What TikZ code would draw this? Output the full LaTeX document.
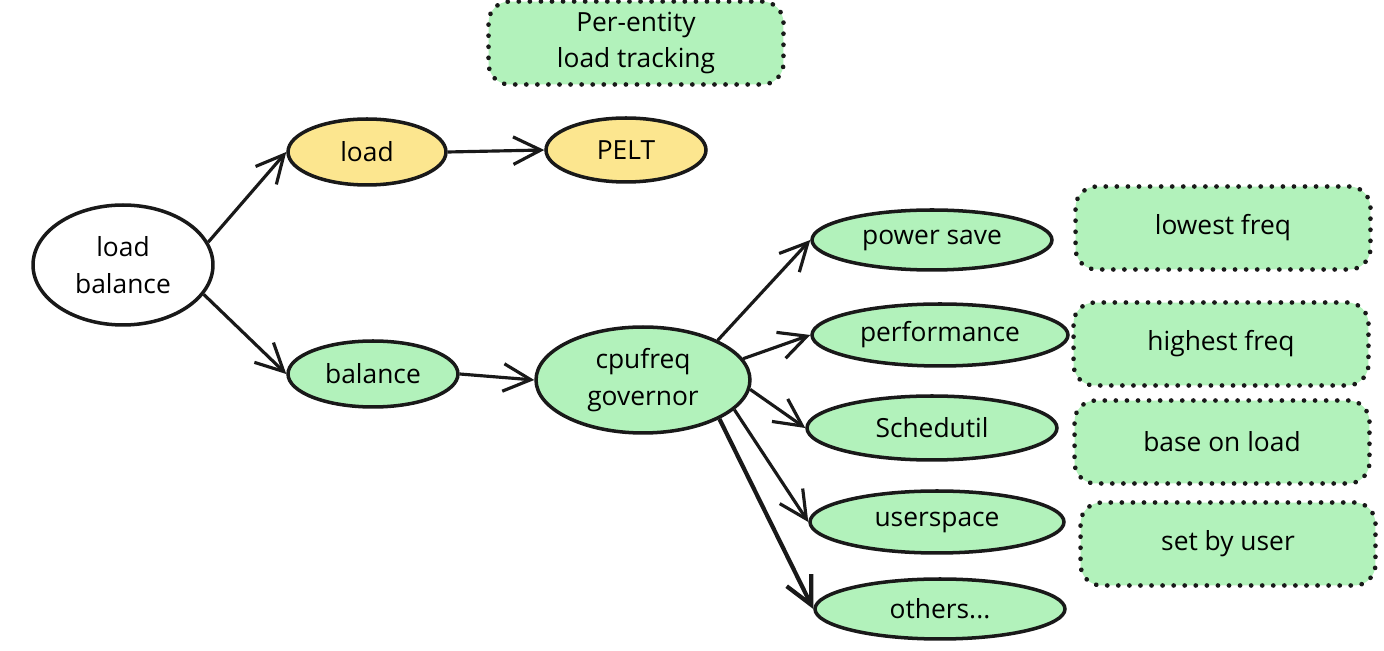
\documentclass[tikz,border=0pt]{standalone}
\usepackage{fontspec}
\setmainfont{Open Sans}
\usetikzlibrary{arrows.meta,shapes.geometric}
\definecolor{loadyellow}{HTML}{FCE68F}
\definecolor{govgreen}{HTML}{B2F2BB}

\begin{document}
\begin{tikzpicture}[x=0.02cm,y=-0.02cm,%
        oval/.style={shape=ellipse,draw=black!90,line width=2pt,inner sep=0pt,align=center,
            font=\fontsize{15}{21}\selectfont},
        yellowoval/.style={oval,fill=loadyellow},
        greenoval/.style={oval,fill=govgreen},
        notebox/.style={draw=black!90,rounded corners=12pt,fill=govgreen,line width=2.6pt,
            dash pattern=on 0.1pt off 6.2pt,line cap=round,align=center,
            minimum width=5.9cm,minimum height=1.66cm,
            font=\fontsize{15}{20}\selectfont},
        myarrow/.style={-{Straight Barb[length=5.5mm,width=5.5mm]},line width=1.8pt,draw=black!90}
    ]
    \useasboundingbox (0,0) rectangle (1384,651);

    \node [oval,fill=white,minimum width=3.6cm,minimum height=2.4cm] (lb) at (123,265) {load\\balance};
    \node [yellowoval,minimum width=3.16cm,minimum height=1.32cm] (load) at (367,152) {load};
    \node [yellowoval,minimum width=3.2cm,minimum height=1.28cm] (pelt) at (626,150) {PELT};
    \node [notebox] (track) at (636,43) {Per-entity\\load tracking};

    \node [greenoval,minimum width=3.4cm,minimum height=1.32cm] (bal) at (373,374) {balance};
    \node [greenoval,minimum width=4.28cm,minimum height=2.12cm] (gov) at (643,380) {cpufreq\\governor};

    \node [greenoval,minimum width=4.8cm,minimum height=1.2cm] (ps) at (932,240) {power save};
    \node [greenoval,minimum width=5.12cm,minimum height=1.24cm] (perf) at (940,335) {performance};
    \node [greenoval,minimum width=5cm,minimum height=1.28cm] (sched) at (932,428) {Schedutil};
    \node [greenoval,minimum width=5.08cm,minimum height=1.24cm] (user) at (937,522) {userspace};
    \node [greenoval,minimum width=5cm,minimum height=1.2cm] (others) at (940,609) {others...};

    \node [notebox] (low) at (1223,228) {lowest freq};
    \node [notebox] (high) at (1221,344) {highest freq};
    \node [notebox] (base) at (1222,442) {base on load};
    \node [notebox] (setu) at (1228,544) {set by user};

    \draw [myarrow] (lb.15) -- (load.west);
    \draw [myarrow] (lb.-20) -- (bal.west);
    \draw [myarrow] (load.east) -- (pelt.west);
    \draw [myarrow] (bal.east) -- (gov.west);
    \draw [myarrow] (gov.28) -- (ps.west);
    \draw [myarrow] (gov.12) -- (perf.west);
    \draw [myarrow] (gov.-5) -- (sched.west);
    \draw [myarrow] (gov.-18) -- (user.west);
    \draw [myarrow,line width=2.4pt] (gov.-27) -- (others.west);
\end{tikzpicture}
\end{document}
